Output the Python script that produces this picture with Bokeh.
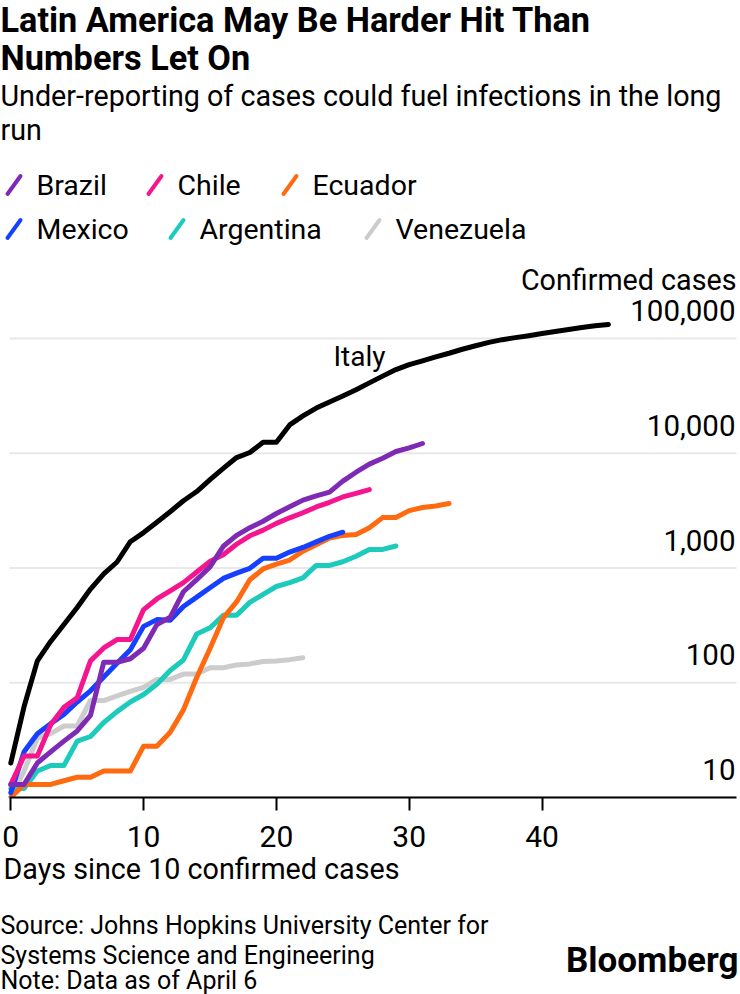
from bokeh.plotting import figure
from bokeh.models import Range1d, FixedTicker, ColumnDataSource, Title, Label
from bokeh.layouts import column
from bokeh.embed import file_html
from bokeh.resources import INLINE
from bokeh.core.properties import value

# ---------------- data ----------------
x_ticks = [0, 10, 20, 30, 40]
y_ticks = [10, 100, 1000, 10000, 100000]
y_tick_labels = ["10", "100", "1,000", "10,000", "100,000"]

italy = [20, 62, 155, 229, 322, 453, 655, 888, 1128, 1694, 2036, 2502, 3089, 3858,
         4636, 5883, 7375, 9172, 10149, 12462, 12462, 17660, 21157, 24747, 27980,
         31506, 35713, 41035, 47021, 53578, 59138, 63927, 69176, 74386, 80589,
         86498, 92472, 97689, 101739, 105792, 110574, 115242, 119827, 124632,
         128948, 132547]
brazil = [13, 13, 20, 25, 31, 38, 52, 151, 151, 162, 200, 321, 372, 621, 793, 1021,
          1546, 1924, 2247, 2554, 2985, 3417, 3904, 4256, 4579, 5717, 6836, 8044,
          9056, 10360, 11130, 12161]
chile = [13, 23, 23, 43, 61, 74, 155, 201, 238, 238, 434, 537, 632, 746, 922, 1142,
         1306, 1610, 1909, 2139, 2449, 2738, 3031, 3404, 3737, 4161, 4471, 4815]
ecuador = [10, 13, 13, 13, 14, 15, 15, 17, 17, 17, 28, 28, 37, 58, 111, 199, 367, 506,
           789, 981, 1082, 1173, 1403, 1595, 1823, 1924, 1962, 2240, 2748, 2758, 3163,
           3368, 3465, 3646]
mexico = [11, 25, 36, 44, 53, 68, 85, 112, 148, 194, 310, 355, 350, 462, 557, 672, 811,
          902, 993, 1215, 1215, 1378, 1510, 1688, 1890, 2050]
argentina = [12, 12, 17, 19, 19, 31, 34, 45, 56, 68, 79, 97, 128, 158, 266, 301, 387,
             387, 502, 589, 690, 745, 820, 1054, 1054, 1133, 1265, 1451, 1451, 1554]
venezuela = [10, 17, 33, 36, 42, 42, 70, 70, 77, 84, 91, 107, 107, 119, 119, 135, 135,
             143, 146, 153, 155, 159, 165]

legend_names = ["Brazil", "Chile", "Ecuador", "Mexico", "Argentina", "Venezuela"]
series = {"Italy": italy, "Brazil": brazil, "Chile": chile, "Ecuador": ecuador,
          "Mexico": mexico, "Argentina": argentina, "Venezuela": venezuela}
colors = {"Italy": "#000000", "Brazil": "#7f2ab5", "Chile": "#f5158f",
          "Ecuador": "#ff6a10", "Mexico": "#1640ff", "Argentina": "#1ccbbb",
          "Venezuela": "#cccccc"}
draw_order = ["Venezuela", "Argentina", "Ecuador", "Mexico", "Chile", "Brazil", "Italy"]

FONT = "Roboto"
PAGE_W = 739

# ---------------- header ----------------
HH = 295
hdr = figure(width=PAGE_W, height=HH, x_range=Range1d(0, PAGE_W), y_range=Range1d(HH, 0),
             output_backend="svg", toolbar_location=None, x_axis_location=None,
             y_axis_location=None, min_border=0, outline_line_color=None)
hdr.grid.visible = False

hdr.text(x=[0, 0], y=[19.5, 57],
         text=["Latin America May Be Harder Hit Than", "Numbers Let On"],
         text_font=value(FONT), text_font_style="bold", text_font_size="34.3px",
         text_color="#000000", text_baseline="alphabetic", text_align="left")
hdr.text(x=[0, 0], y=[95, 129],
         text=["Under-reporting of cases could fuel infections in the long", "run"],
         text_font=value(FONT), text_font_size="28.7px", text_color="#000000",
         text_baseline="alphabetic", text_align="left")

leg_tx = [36, 177, 312, 36, 199, 395]
leg_cy = [185, 185, 185, 229, 229, 229]
hdr.text(x=leg_tx, y=leg_cy, text=legend_names, text_font=value(FONT),
         text_font_size="28.5px", text_color="#000000", text_baseline="alphabetic",
         text_align="left")
kx0 = [t - 29 for t in leg_tx]
kx1 = [t - 16 for t in leg_tx]
ky0 = [c + 8.5 for c in leg_cy]
ky1 = [c - 9.5 for c in leg_cy]
hdr.segment(x0=kx0, y0=ky0, x1=kx1, y1=ky1, line_width=4, line_cap="round",
            line_color=[colors[n] for n in legend_names])

hdr.text(x=[736], y=[279], text=["Confirmed cases"], text_font=value(FONT),
         text_font_size="28.7px", text_color="#000000", text_baseline="alphabetic",
         text_align="right")

# ---------------- main chart ----------------
FRAME_H = 502
BOTTOM = 110
PX_DAY = 13.28
DAY0_PX = 10.3          # page x of day 0
DEC_PX = 114.75
x0 = -DAY0_PX / PX_DAY
x1 = x0 + PAGE_W / PX_DAY
y1 = 10 ** (1 + FRAME_H / DEC_PX)
plot_left = x0 + 9 / PX_DAY      # where the axis line / gridlines begin
plot_right = x0 + 736 / PX_DAY

p = figure(width=PAGE_W, height=FRAME_H + BOTTOM, x_range=Range1d(x0, x1),
           y_range=Range1d(10, y1), y_axis_type="log", y_axis_location=None,
           output_backend="svg", toolbar_location=None, min_border_left=0,
           min_border_right=0, min_border_top=0, min_border_bottom=BOTTOM,
           outline_line_color=None)
p.grid.visible = False

# horizontal gridlines at the y ticks
p.segment(x0=[plot_left] * len(y_ticks), x1=[plot_right] * len(y_ticks),
          y0=y_ticks, y1=y_ticks, line_color="#e8e8e8", line_width=2)

ax = p.xaxis[0]
ax.ticker = FixedTicker(ticks=x_ticks)
ax.bounds = (plot_left, plot_right)
ax.axis_line_color = "#000000"
ax.axis_line_width = 2
ax.major_tick_line_color = "#000000"
ax.major_tick_line_width = 2
ax.major_tick_out = 13
ax.major_tick_in = 0
ax.minor_tick_line_color = None
ax.major_label_text_font = FONT
ax.major_label_text_font_size = "30px"
ax.major_label_text_color = "#000000"
ax.major_label_standoff = 15

p.add_layout(Title(text="Days since 10 confirmed cases", align="left", offset=3,
                   text_font=FONT, text_font_size="28.7px", text_font_style="normal",
                   text_color="#000000", standoff=0), "below")

for name in draw_order:
    vals = series[name]
    src = ColumnDataSource(data=dict(day=list(range(len(vals))), cases=vals))
    p.line("day", "cases", source=src, line_color=colors[name], line_width=5,
           line_cap="round", line_join="round")

lab_shift = 10 ** (28 / DEC_PX)
lab_x = x0 + 735 / PX_DAY
p.text(x=[lab_x] * len(y_ticks), y=[t * lab_shift for t in y_ticks], text=y_tick_labels,
       text_font=value(FONT), text_font_size="29.5px", text_color="#000000",
       text_align="right", text_baseline="alphabetic")

p.add_layout(Label(x=26.26, y=69660, text="Italy", text_align="center",
                   text_baseline="alphabetic", text_font=FONT,
                   text_font_size="28px", text_color="#000000"))

# ---------------- footer ----------------
FH = 87
ftr = figure(width=PAGE_W, height=FH, x_range=Range1d(0, PAGE_W), y_range=Range1d(FH, 0),
             output_backend="svg", toolbar_location=None, x_axis_location=None,
             y_axis_location=None, min_border=0, outline_line_color=None)
ftr.grid.visible = False
ftr.text(x=[0, 0, 0], y=[18, 47.5, 73],
         text=["Source: Johns Hopkins University Center for",
               "Systems Science and Engineering",
               "Note: Data as of April 6"],
         text_font=value(FONT), text_font_size="25px", text_color="#000000",
         text_baseline="alphabetic", text_align="left")
ftr.text(x=[738], y=[53], text=["Bloomberg"], text_font=value(FONT),
         text_font_style="bold", text_font_size="35px", text_color="#000000",
         text_baseline="alphabetic", text_align="right")

layout = column(hdr, p, ftr, spacing=0)
open("out.html", "w").write(file_html(layout, INLINE))
